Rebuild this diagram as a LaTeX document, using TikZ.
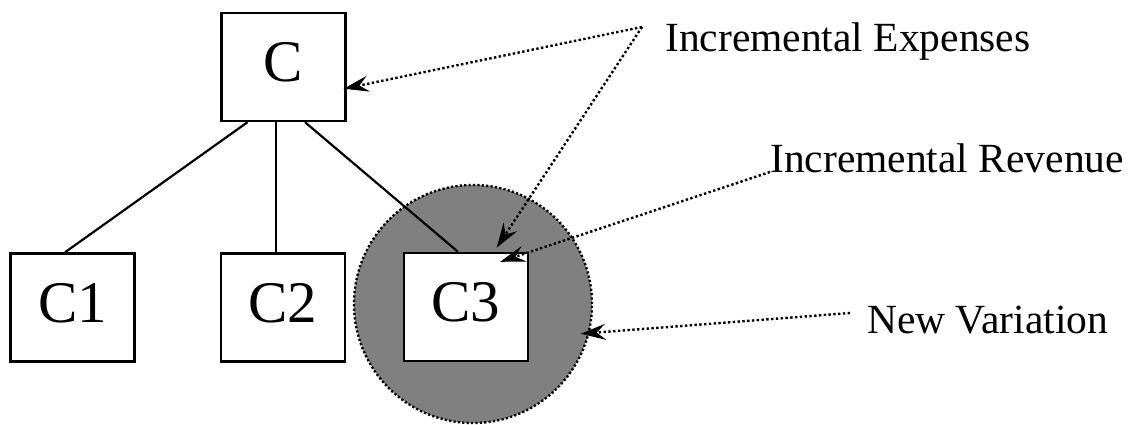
\documentclass[tikz,border=0pt]{standalone}
\usepackage{fontspec}
\setmainfont{Liberation Serif}
\usetikzlibrary{arrows.meta}
\tikzstyle{cls}=[draw,line width=2.4pt,fill=white,inner sep=0pt,minimum width=124pt,minimum height=108pt,text depth=10pt,font=\fontsize{59}{60}\selectfont]
\tikzstyle{note}=[inner sep=0pt,anchor=base west,font=\fontsize{41.5}{44}\selectfont]
\tikzstyle{link}=[line width=2.2pt]
\tikzstyle{ptr}=[line width=2.4pt,dash pattern=on 2.4pt off 2.4pt,>={Stealth[length=25pt,width=16pt,inset=9pt]},->]
\begin{document}
\begin{tikzpicture}[x=1pt,y=1pt]
	\useasboundingbox (0,0) rectangle (1138,424);
	% the new variation, behind C3
	\node[circle,fill=gray,draw,line width=2.4pt,dash pattern=on 2.2pt off 2.2pt,minimum size=238pt,inner sep=0pt] (var) at (473,120) {};
	\node[cls] (c)  at (283.5,357) {C};
	\node[cls] (c1) at (72.5,116.5) {C1};
	\node[cls] (c2) at (283,116.5)  {C2};
	\node[cls] (c3) at (466,117)    {C3};
	\draw[link] ([xshift=-36pt]c.south)  -- ([xshift=-7.5pt]c1.north);
	\draw[link] ([xshift=-7.5pt]c.south) -- ([xshift=-7pt]c2.north);
	\draw[link] ([xshift=21.5pt]c.south) -- ([xshift=-8pt]c3.north);
	% labels and their pointers
	\node[note] (exp) at (665,372) {Incremental Expenses};
	\node[note] (rev) at (770,252) {Incremental Revenue};
	\node[note] (new) at (867,91)  {New Variation};
	\coordinate (expfoot) at ([shift={(-23pt,25pt)}]exp.base west);
	\draw[ptr] (expfoot) -- ([xshift=-3pt]c.-19);
	\draw[ptr] (expfoot) -- ([yshift=4pt]c3.61);
	\draw[ptr] (rev.base west) -- ([shift={(-29pt,-10pt)}]c3.north east);
	\draw[ptr,shorten >=-9pt] ([shift={(-17pt,20pt)}]new.base west) -- (var.-14);
\end{tikzpicture}
\end{document}
